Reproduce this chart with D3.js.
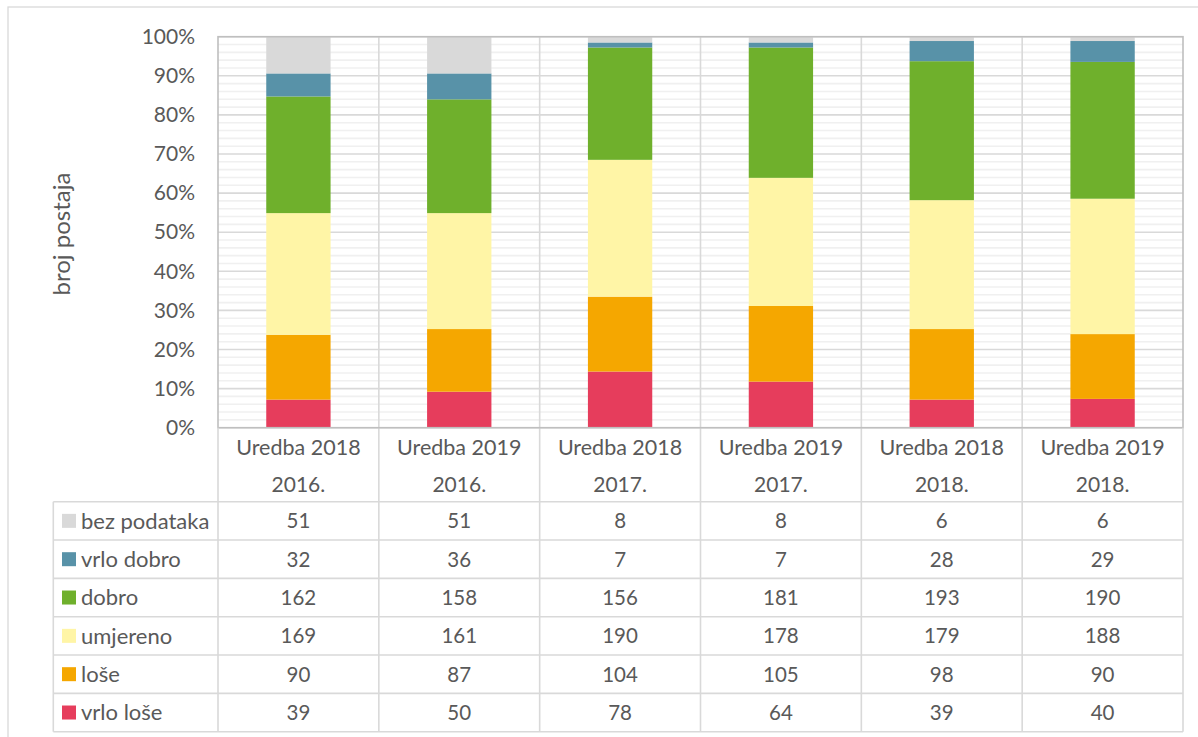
<!DOCTYPE html>
<html>
<head>
<meta charset="utf-8">
<script src="https://cdn.jsdelivr.net/npm/d3@7"></script>
<style>
  html, body { margin: 0; padding: 0; background: #fff; }
  svg text { font-family: Lato, "Open Sans", sans-serif; fill: #595959; }
</style>
</head>
<body>
<svg id="chart" width="1198" height="737"></svg>
<script>
// Categories: regulation (line 1) and year (line 2)
const regulations = ["Uredba 2018", "Uredba 2019", "Uredba 2018", "Uredba 2019", "Uredba 2018", "Uredba 2019"];
const years = ["2016.", "2016.", "2017.", "2017.", "2018.", "2018."];

// Station counts per quality class (bottom to top of stack)
const vrloLose = [39, 50, 78, 64, 39, 40];
const lose = [90, 87, 104, 105, 98, 90];
const umjereno = [169, 161, 190, 178, 179, 188];
const dobro = [162, 158, 156, 181, 193, 190];
const vrloDobro = [32, 36, 7, 7, 28, 29];
const bezPodataka = [51, 51, 8, 8, 6, 6];

const seriesNames = ["vrlo loše", "loše", "umjereno", "dobro", "vrlo dobro", "bez podataka"];
const seriesValues = [vrloLose, lose, umjereno, dobro, vrloDobro, bezPodataka];
const seriesColors = ["#E63D5C", "#F5A700", "#FFF5A6", "#6FB02C", "#5892A8", "#D9D9D9"];

const yTicks = [0, 0.1, 0.2, 0.3, 0.4, 0.5, 0.6, 0.7, 0.8, 0.9, 1.0];

const svg = d3.select("#chart");

// Outer chart frame
svg.append("rect")
  .attr("x", 8).attr("y", 7).attr("width", 1200).attr("height", 740)
  .attr("fill", "none").attr("stroke", "#D9D9D9").attr("stroke-width", 1.3);

const plot = { left: 218, right: 1183, top: 36.7, bottom: 427.7 };

const x = d3.scaleBand()
  .domain(d3.range(regulations.length))
  .range([plot.left, plot.right])
  .paddingInner(0).paddingOuter(0);

const y = d3.scaleLinear().domain([0, 1]).range([plot.bottom, plot.top]);

// Minor gridlines every 2%
const minor = d3.range(0, 51).map(i => i / 50).filter(v => Math.round(v * 50) % 5 !== 0);
svg.append("g").selectAll("line").data(minor).join("line")
  .attr("x1", plot.left).attr("x2", plot.right)
  .attr("y1", d => y(d)).attr("y2", d => y(d))
  .attr("stroke", "#F0F0F0").attr("stroke-width", 1.6);

// Major gridlines
svg.append("g").selectAll("line").data(yTicks).join("line")
  .attr("x1", plot.left).attr("x2", plot.right)
  .attr("y1", d => y(d)).attr("y2", d => y(d))
  .attr("stroke", "#D9D9D9").attr("stroke-width", 1.6);

// Table geometry
const rowH = 38.33;
const tableTop = 501.7;
const legendLeft = 53.3;
const tableBottom = tableTop + rowH * 6;

// Vertical category separators through plot and table
const seps = d3.range(1, regulations.length).map(i => x(i));
svg.append("g").selectAll("line").data(seps).join("line")
  .attr("x1", d => d).attr("x2", d => d)
  .attr("y1", plot.top).attr("y2", tableBottom)
  .attr("stroke", "#D9D9D9").attr("stroke-width", 1.6);

// Stacked 100% bars
const rows = regulations.map((r, i) => {
  const o = { i };
  seriesNames.forEach((n, k) => { o[n] = seriesValues[k][i]; });
  return o;
});
const stack = d3.stack().keys(seriesNames).offset(d3.stackOffsetExpand);
const layers = stack(rows);

const barW = x.bandwidth() * 0.4;
svg.append("g").selectAll("g").data(layers).join("g")
  .attr("fill", (d, k) => seriesColors[k])
  .selectAll("rect").data(d => d).join("rect")
  .attr("x", d => x(d.data.i) + (x.bandwidth() - barW) / 2)
  .attr("width", barW)
  .attr("y", d => y(d[1]))
  .attr("height", d => y(d[0]) - y(d[1]));

// Plot area border
svg.append("rect")
  .attr("x", plot.left).attr("y", plot.top)
  .attr("width", plot.right - plot.left).attr("height", plot.bottom - plot.top)
  .attr("fill", "none").attr("stroke", "#BFBFBF").attr("stroke-width", 1.6);

// Y axis tick labels
const yAxis = d3.axisLeft(y).tickValues(yTicks).tickFormat(d3.format(".0%")).tickSize(0).tickPadding(23);
const gy = svg.append("g").attr("transform", `translate(${plot.left},0)`).call(yAxis);
gy.select(".domain").remove();
gy.selectAll("text").attr("font-size", 21).attr("fill", "#595959")
  .style("font-family", "Lato, 'Open Sans', sans-serif");

// Y axis title
svg.append("text")
  .attr("transform", `translate(70,234) rotate(-90)`)
  .attr("text-anchor", "middle")
  .attr("font-size", 24)
  .text("broj postaja");

// Category header labels
const hdr = svg.append("g");
hdr.selectAll("text.reg").data(regulations).join("text")
  .attr("class", "reg")
  .attr("x", (d, i) => x(i) + x.bandwidth() / 2).attr("y", 455)
  .attr("text-anchor", "middle").attr("font-size", 21.5)
  .text(d => d);
hdr.selectAll("text.yr").data(years).join("text")
  .attr("class", "yr")
  .attr("x", (d, i) => x(i) + x.bandwidth() / 2).attr("y", 492)
  .attr("text-anchor", "middle").attr("font-size", 21)
  .text(d => d);

// Data table (top row = last series)
const tableOrder = seriesNames.map((n, k) => k).reverse();
const table = svg.append("g");

// Horizontal rules
table.selectAll("line.h").data(d3.range(0, 7)).join("line")
  .attr("class", "h")
  .attr("x1", legendLeft).attr("x2", plot.right)
  .attr("y1", d => tableTop + d * rowH).attr("y2", d => tableTop + d * rowH)
  .attr("stroke", "#D9D9D9").attr("stroke-width", 1.6);

// Vertical rules: legend column edges and right edge
[legendLeft, plot.left, plot.right].forEach(xx => {
  table.append("line")
    .attr("x1", xx).attr("x2", xx)
    .attr("y1", xx === legendLeft ? tableTop : plot.bottom).attr("y2", tableBottom)
    .attr("stroke", "#D9D9D9").attr("stroke-width", 1.6);
});

tableOrder.forEach((k, r) => {
  const cy = tableTop + r * rowH + rowH / 2;
  table.append("rect")
    .attr("x", 62).attr("y", cy - 7).attr("width", 14).attr("height", 14)
    .attr("fill", seriesColors[k]);
  table.append("text")
    .attr("x", 81).attr("y", cy).attr("dy", "0.36em")
    .attr("font-size", 22)
    .text(seriesNames[k]);
  table.selectAll(null).data(seriesValues[k]).join("text")
    .attr("x", (d, i) => x(i) + x.bandwidth() / 2).attr("y", cy).attr("dy", "0.36em")
    .attr("text-anchor", "middle").attr("font-size", 20.5)
    .text(d => d);
});
</script>
</body>
</html>
